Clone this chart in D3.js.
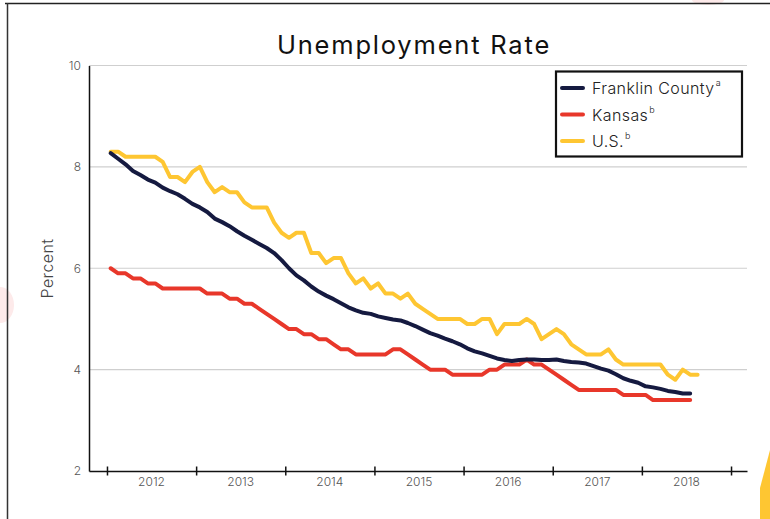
<!DOCTYPE html>
<html>
<head>
<meta charset="utf-8">
<script src="https://cdn.jsdelivr.net/npm/d3@7"></script>
<style>
  body { margin: 0; background: #fff; }
  svg text { font-family: "Inter", "Open Sans", sans-serif; }
</style>
</head>
<body>
<div id="chart"></div>
<script>
// monthly values, Jan 2012 onwards
const years = ["2012", "2013", "2014", "2015", "2016", "2017", "2018"];
const yTicks = [2, 4, 6, 8, 10];

const franklin = [
  8.27, 8.16, 8.05, 7.92, 7.84, 7.75, 7.69, 7.59, 7.52, 7.46, 7.37, 7.27,
  7.20, 7.11, 6.98, 6.91, 6.83, 6.73, 6.64, 6.56, 6.48, 6.40, 6.30, 6.16,
  6.00, 5.86, 5.76, 5.64, 5.54, 5.46, 5.39, 5.31, 5.23, 5.17, 5.12, 5.10,
  5.05, 5.02, 4.99, 4.97, 4.92, 4.86, 4.79, 4.72, 4.67, 4.61, 4.56, 4.50,
  4.42, 4.36, 4.32, 4.27, 4.22, 4.19, 4.17, 4.19, 4.20, 4.20, 4.19, 4.19,
  4.20, 4.17, 4.15, 4.14, 4.12, 4.07, 4.02, 3.98, 3.91, 3.83, 3.78, 3.74,
  3.67, 3.65, 3.62, 3.58, 3.56, 3.53, 3.53
];
const kansas = [
  6.0, 5.9, 5.9, 5.8, 5.8, 5.7, 5.7, 5.6, 5.6, 5.6, 5.6, 5.6,
  5.6, 5.5, 5.5, 5.5, 5.4, 5.4, 5.3, 5.3, 5.2, 5.1, 5.0, 4.9,
  4.8, 4.8, 4.7, 4.7, 4.6, 4.6, 4.5, 4.4, 4.4, 4.3, 4.3, 4.3,
  4.3, 4.3, 4.4, 4.4, 4.3, 4.2, 4.1, 4.0, 4.0, 4.0, 3.9, 3.9,
  3.9, 3.9, 3.9, 4.0, 4.0, 4.1, 4.1, 4.1, 4.2, 4.1, 4.1, 4.0,
  3.9, 3.8, 3.7, 3.6, 3.6, 3.6, 3.6, 3.6, 3.6, 3.5, 3.5, 3.5,
  3.5, 3.4, 3.4, 3.4, 3.4, 3.4, 3.4
];
const us = [
  8.3, 8.3, 8.2, 8.2, 8.2, 8.2, 8.2, 8.1, 7.8, 7.8, 7.7, 7.9,
  8.0, 7.7, 7.5, 7.6, 7.5, 7.5, 7.3, 7.2, 7.2, 7.2, 6.9, 6.7,
  6.6, 6.7, 6.7, 6.3, 6.3, 6.1, 6.2, 6.2, 5.9, 5.7, 5.8, 5.6,
  5.7, 5.5, 5.5, 5.4, 5.5, 5.3, 5.2, 5.1, 5.0, 5.0, 5.0, 5.0,
  4.9, 4.9, 5.0, 5.0, 4.7, 4.9, 4.9, 4.9, 5.0, 4.9, 4.6, 4.7,
  4.8, 4.7, 4.5, 4.4, 4.3, 4.3, 4.3, 4.4, 4.2, 4.1, 4.1, 4.1,
  4.1, 4.1, 4.1, 3.9, 3.8, 4.0, 3.9, 3.9
];

const seriesNames = ["Franklin County", "Kansas", "U.S."];
const seriesNotes = ["a", "b", "b"];
const seriesColors = ["#151a40", "#e8372a", "#fec632"];

const W = 770, H = 519;
const margin = {top: 65.5, right: 23, bottom: 48, left: 89};
const width = W - margin.left - margin.right;
const height = H - margin.top - margin.bottom;

const svg = d3.select("#chart").append("svg")
    .attr("width", W)
    .attr("height", H);

// page decorations round the chart
svg.append("ellipse")
    .attr("cx", 0).attr("cy", 305).attr("rx", 14).attr("ry", 18)
    .style("fill", "#fdeaea");
svg.append("ellipse")
    .attr("cx", 708).attr("cy", 0).attr("rx", 16).attr("ry", 5)
    .style("fill", "#fdeaea");
svg.append("path")
    .attr("d", `M770,450 L760,488 L760,${H} L770,${H} Z`)
    .style("fill", "#fec632");
svg.append("line")
    .attr("x1", 5).attr("x2", W).attr("y1", 3.5).attr("y2", 3.5)
    .style("stroke", "#222").style("stroke-width", 1.5);
svg.append("line")
    .attr("x1", 7.5).attr("x2", 7.5).attr("y1", 3).attr("y2", H)
    .style("stroke", "#333").style("stroke-width", 1.5);

const g = svg.append("g")
    .attr("transform", `translate(${margin.left},${margin.top})`);

// months from Jan 2012, points sit mid-month
const x = d3.scaleLinear()
    .domain([-2.42, 86.15])
    .range([0, width]);

const y = d3.scaleLinear()
    .domain([2, 10])
    .range([height, 0]);

// gridlines
g.append("g")
    .selectAll("line")
    .data(yTicks.filter(d => d > 2))
    .join("line")
    .attr("x1", 0).attr("x2", width)
    .attr("y1", d => y(d)).attr("y2", d => y(d))
    .style("stroke", "#cfcfcf").style("stroke-width", 1.2);

// y axis
const yAxis = g.append("g")
    .call(d3.axisLeft(y).tickValues(yTicks).tickSize(0).tickPadding(8));
yAxis.select(".domain").style("stroke", "#111").style("stroke-width", 1.5);
yAxis.selectAll("text")
    .style("font-size", "12px").style("fill", "#555").style("font-weight", 300);

// x axis with ticks crossing the line at year boundaries
const xAxis = g.append("g")
    .attr("transform", `translate(0,${height})`)
    .call(d3.axisBottom(x).tickValues(d3.range(0, 85, 12)).tickSize(0).tickFormat(""));
xAxis.select(".domain").style("stroke", "#111").style("stroke-width", 1.5);
xAxis.selectAll(".tick line").remove();
xAxis.selectAll(".tick")
    .append("line")
    .attr("y1", -4.5).attr("y2", 4.5)
    .style("stroke", "#111").style("stroke-width", 1.5);

g.append("g")
    .selectAll("text")
    .data(years)
    .join("text")
    .attr("x", (d, i) => x(i * 12 + 6))
    .attr("y", height + 14.5)
    .attr("text-anchor", "middle")
    .style("font-size", "12px").style("fill", "#555").style("font-weight", 300)
    .text(d => d);

// axis label
g.append("text")
    .attr("transform", "rotate(-90)")
    .attr("x", -(268.5 - margin.top))
    .attr("y", 47 - margin.left + 6)
    .attr("text-anchor", "middle")
    .style("font-size", "16px").style("fill", "#444").style("font-weight", 300)
    .style("letter-spacing", "0.4px")
    .text("Percent");

// title
svg.append("text")
    .attr("x", 414)
    .attr("y", 53.5)
    .attr("text-anchor", "middle")
    .style("font-size", "25.5px").style("fill", "#111")
    .style("letter-spacing", "1.8px")
    .text("Unemployment Rate");

// lines, US drawn first so county sits on top
const line = d3.line()
    .x((d, i) => x(i + 0.5))
    .y(d => y(d));

const allSeries = [franklin, kansas, us];
[2, 1, 0].forEach(k => {
    g.append("path")
        .datum(allSeries[k])
        .attr("d", line)
        .style("fill", "none")
        .style("stroke", seriesColors[k])
        .style("stroke-width", 4)
        .style("stroke-linejoin", "round")
        .style("stroke-linecap", "round");
});

// legend
const legend = svg.append("g");
legend.append("rect")
    .attr("x", 556).attr("y", 71.5)
    .attr("width", 186).attr("height", 85)
    .style("fill", "#fff").style("stroke", "#111").style("stroke-width", 2.2);

const rows = legend.selectAll(".row")
    .data(seriesNames)
    .join("g")
    .attr("class", "row")
    .attr("transform", (d, i) => `translate(0,${88 + i * 26.5})`);

rows.append("line")
    .attr("x1", 562).attr("x2", 583)
    .style("stroke", (d, i) => seriesColors[i])
    .style("stroke-width", 4)
    .style("stroke-linecap", "round");

const labels = rows.append("text")
    .attr("x", 592)
    .attr("y", 6)
    .style("font-size", "16px").style("fill", "#222").style("font-weight", 300)
    .style("letter-spacing", "0.4px");
labels.append("tspan").text(d => d);
labels.append("tspan")
    .attr("dx", 1)
    .attr("dy", -8)
    .style("font-size", "9px")
    .text((d, i) => seriesNotes[i]);
</script>
</body>
</html>
